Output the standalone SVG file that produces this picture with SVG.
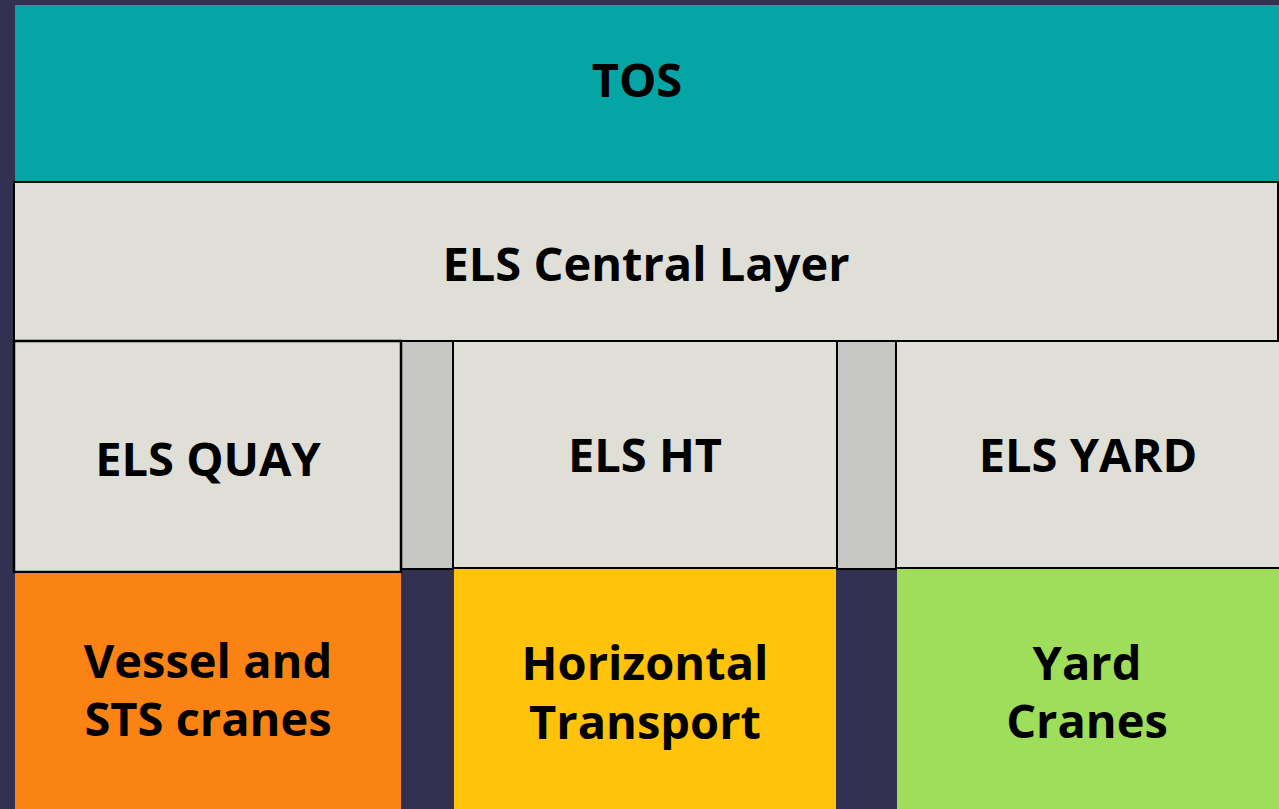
<svg xmlns="http://www.w3.org/2000/svg" width="1279" height="809" viewBox="0 0 1279 809">
<style>
.t{font-family:"Open Sans","Noto Sans","DejaVu Sans",sans-serif;font-weight:bold;font-size:47px;fill:#000;text-anchor:middle}
.box{fill:#dfdfd7;stroke:#000;stroke-width:2}
.gap{fill:#c6c6c5;stroke:#000;stroke-width:2}
</style>
<rect x="0" y="0" width="1279" height="809" fill="#333152"/>
<g id="tos"><rect x="15" y="5" width="1264" height="177" fill="#05a5a5"/><text class="t" x="637" y="97">TOS</text></g>
<g id="gaps">
<rect class="gap" x="401" y="341" width="52" height="228"/>
<rect class="gap" x="837" y="341" width="59" height="228"/>
</g>
<g id="central"><rect class="box" x="14" y="182" width="1264" height="159"/><text class="t" x="646" y="281">ELS Central Layer</text></g>
<g id="quay"><rect class="box" x="14" y="341" width="387" height="231" style="stroke-width:2.5"/><text class="t" x="208" y="476">ELS QUAY</text></g>
<g id="ht"><rect class="box" x="453" y="341" width="384" height="227"/><text class="t" x="645" y="472">ELS HT</text></g>
<g id="yard"><rect class="box" x="896" y="341" width="384" height="227"/><text class="t" x="1088" y="472">ELS YARD</text></g>
<g id="vessel"><rect x="15" y="573" width="386" height="236" fill="#fb8313"/><text class="t" x="208" y="678">Vessel and</text><text class="t" x="208" y="736">STS cranes</text></g>
<g id="horizontal"><rect x="454" y="569" width="382" height="240" fill="#fec30a"/><text class="t" x="645" y="680">Horizontal</text><text class="t" x="645" y="739">Transport</text></g>
<g id="cranes"><rect x="897" y="569" width="382" height="240" fill="#9ede5b"/><text class="t" x="1087" y="680">Yard</text><text class="t" x="1087" y="738">Cranes</text></g>
<g id="connectors"></g>
</svg>
